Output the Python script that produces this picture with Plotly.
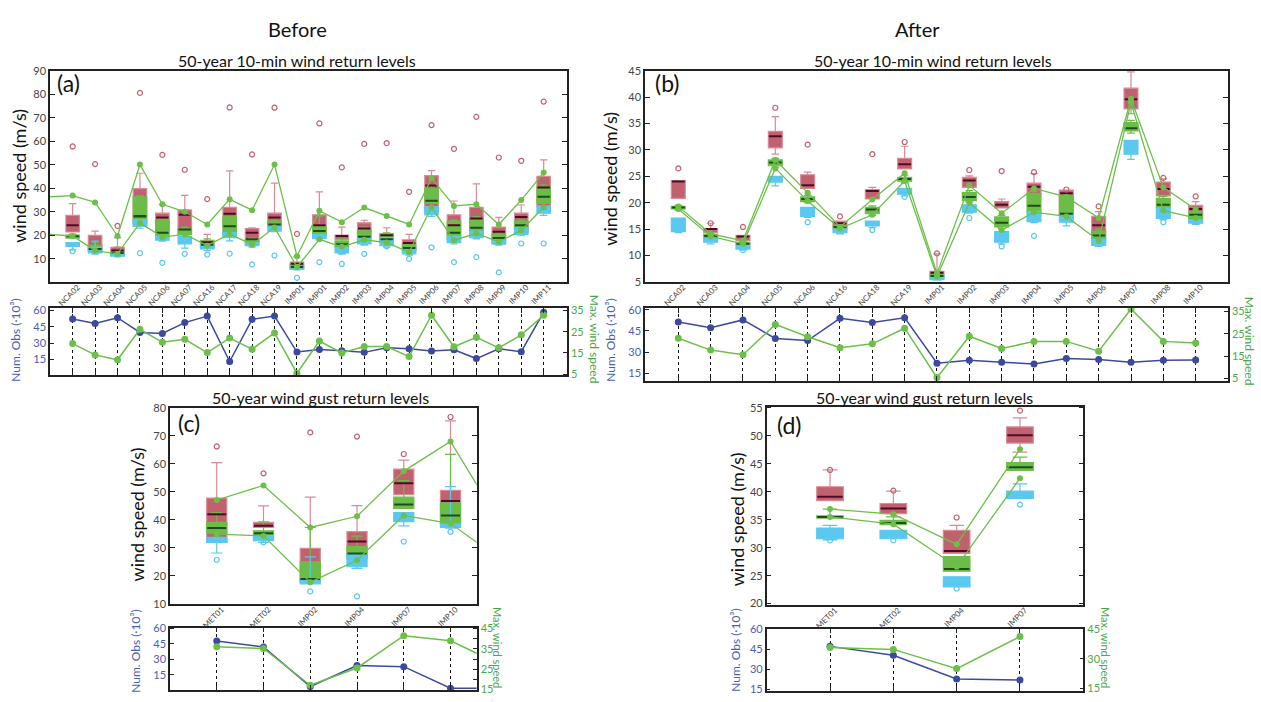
import plotly.graph_objects as go

W, H = 1261, 702
FONT = "Lato"

# ---------------- DATA ----------------
# Panel (a): 50-year 10-min wind return levels, before
stations_a = ["NCA02", "NCA03", "NCA04", "NCA05", "NCA06", "NCA07", "NCA16", "NCA17", "NCA18", "NCA19",
              "IMP01", "IMP01", "IMP02", "IMP03", "IMP04", "IMP05", "IMP06", "IMP07", "IMP08", "IMP09",
              "IMP10", "IMP11"]
red_a_q1 = [21.4, 13.5, 11.4, 23.9, 21.8, 20.4, 16.3, 23.9, 16.9, 23.9, 6.5, 19.7, 18.3, 19.7, 18.3, 14.2, 30.1, 19.7, 21.1, 18.3, 22.5, 32.2]
red_a_med = [24.3, 14.2, 13.5, 28.1, 27.6, 28.7, 17.0, 29.2, 21.1, 27.6, 7.9, 24.3, 19.7, 22.9, 20.0, 16.7, 41.2, 24.3, 27.1, 21.5, 27.8, 40.3]
red_a_q3 = [28.5, 20.0, 14.9, 39.9, 29.4, 30.8, 17.8, 31.9, 22.9, 29.4, 8.6, 28.7, 20.1, 25.3, 20.7, 18.1, 45.4, 28.7, 31.9, 23.5, 29.4, 45.1]
red_a_hi = [33.5, 21.8, 19.0, 46.4, 33.0, 37.0, 20.4, 47.4, 23.2, 42.2, 10.7, 38.5, 23.5, 26.4, 23.2, 20.4, 47.5, 34.6, 41.9, 27.6, 32.9, 52.1]
red_a_lo = [21.4, 13.5, 11.4, 23.9, 21.8, 20.4, 16.3, 23.9, 16.9, 23.9, 6.5, 19.7, 18.3, 19.7, 18.3, 14.2, 30.1, 19.7, 21.1, 18.3, 22.5, 32.2]
red_a_out = [57.8, 50.3, 24.0, 80.6, 54.2, 47.9, 35.4, 74.4, 54.4, 74.3, 20.6, 67.6, 48.9, 58.9, 59.2, 38.5, 66.9, 56.8, 70.4, 53.1, 51.7, 76.9]
green_a_q1 = [18.8, 13.2, 11.4, 25.3, 19.7, 20.4, 14.9, 19.7, 16.0, 23.9, 5.6, 20.4, 14.9, 18.3, 16.9, 13.5, 33.6, 18.3, 20.4, 16.9, 21.1, 33.6]
green_a_med = [19.6, 14.2, 12.5, 28.1, 21.1, 22.5, 16.0, 23.9, 18.3, 24.6, 6.5, 21.8, 16.2, 19.4, 18.3, 14.6, 34.7, 21.1, 23.2, 18.8, 24.3, 36.4]
green_a_q3 = [20.1, 15.8, 13.0, 36.4, 26.7, 23.0, 17.6, 28.1, 18.3, 26.0, 7.5, 23.9, 17.6, 22.5, 20.4, 16.2, 39.9, 26.0, 27.4, 20.4, 26.0, 40.6]
green_a_hi = [20.5, 17.0, 15.0, 36.8, 26.9, 23.5, 18.5, 28.1, 18.8, 26.5, 8.0, 28.1, 18.5, 23.5, 21.0, 17.0, 41.0, 26.5, 28.0, 21.0, 26.5, 41.5]
green_a_lo = [18.8, 13.2, 11.4, 25.3, 19.7, 20.4, 14.9, 19.7, 16.0, 23.9, 5.6, 20.4, 14.9, 18.3, 16.9, 13.5, 33.6, 18.3, 20.4, 16.9, 21.1, 33.6]
blue_a_q1 = [15.3, 12.5, 11.1, 23.9, 17.9, 16.3, 14.2, 19.0, 15.6, 21.8, 5.6, 18.6, 12.5, 16.3, 15.6, 12.1, 28.7, 16.9, 19.0, 16.2, 20.4, 29.4]
blue_a_med = [16.1, 13.7, 11.8, 25.3, 18.8, 18.0, 15.2, 20.0, 16.2, 22.8, 6.0, 19.5, 13.7, 17.6, 17.3, 13.1, 30.4, 18.3, 20.4, 17.2, 21.8, 30.9]
blue_a_q3 = [16.9, 14.9, 12.5, 26.7, 19.7, 19.7, 16.3, 21.1, 16.9, 23.9, 6.5, 20.4, 14.9, 19.0, 19.0, 14.2, 32.2, 19.7, 21.8, 18.3, 23.2, 32.5]
blue_a_hi = [16.9, 17.5, 12.5, 26.7, 19.7, 19.7, 16.3, 21.1, 16.9, 23.9, 6.5, 20.4, 14.9, 19.0, 19.0, 14.2, 32.2, 19.7, 21.8, 18.3, 23.2, 32.5]
blue_a_lo = [13.8, 12.0, 10.8, 23.0, 17.5, 14.5, 13.5, 17.6, 15.0, 21.5, 5.3, 18.0, 12.0, 15.8, 15.0, 11.6, 28.0, 16.3, 18.5, 15.8, 19.8, 28.5]
blue_a_out = [13.2, None, None, 12.4, 8.3, 12.1, 11.8, 12.2, 7.6, 11.4, 1.9, 8.6, 7.8, 12.1, 15.3, 10.0, 14.9, 8.6, 10.7, 4.2, 16.5, 16.5]
upper_a = [36.9, 34.0, 19.7, 50.1, 33.2, 30.0, 24.6, 35.3, 30.7, 50.1, 11.1, 30.4, 25.6, 31.8, 28.2, 24.6, 44.3, 32.5, 33.2, 24.6, 35.0, 46.7]
lower_a = [19.7, 13.5, 12.1, 25.3, 19.2, 20.4, 15.6, 20.6, 16.0, 23.3, 6.5, 18.3, 15.1, 18.1, 16.9, 12.8, 31.9, 17.9, 20.8, 17.2, 22.1, 31.9]
upper_a_prev = 35.9   # line continues from a station left of the frame
lower_a_prev = 21.1
obs_a = [52.2, 48.0, 53.4, 39.9, 39.0, 48.9, 54.9, 13.2, 51.9, 54.9, 21.9, 24.3, 23.1, 21.6, 25.8, 24.9, 22.8, 24.0, 15.9, 24.9, 22.2, 58.5]
maxws_a = [19.4, 14.1, 11.8, 26.1, 20.0, 21.4, 15.2, 22.0, 16.8, 24.4, 5.5, 20.6, 15.0, 18.0, 18.0, 13.3, 32.7, 17.9, 22.4, 17.4, 23.5, 32.7]

# Panel (b): 50-year 10-min wind return levels, after
stations_b = ["NCA02", "NCA03", "NCA04", "NCA05", "NCA06", "NCA16", "NCA18", "NCA19", "IMP01", "IMP02",
              "IMP03", "IMP04", "IMP05", "IMP06", "IMP07", "IMP08", "IMP10"]
red_b_q1 = [20.8, 14.3, 12.8, 30.4, 22.7, 15.6, 20.7, 26.4, 6.3, 22.9, 19.0, 21.4, 17.7, 13.1, 37.8, 21.3, 18.2]
red_b_med = [24.0, 15.0, 13.6, 32.6, 23.3, 16.1, 22.2, 27.3, 6.7, 24.2, 19.6, 23.0, 21.8, 15.7, 39.6, 22.6, 18.8]
red_b_q3 = [24.2, 15.1, 13.8, 33.5, 25.3, 16.5, 22.5, 28.4, 7.0, 24.8, 20.2, 23.7, 22.4, 17.4, 41.7, 23.9, 19.5]
red_b_hi = [24.2, 16.1, 13.8, 36.3, 25.8, 16.5, 22.9, 30.7, 10.3, 25.1, 20.7, 25.5, 22.4, 18.3, 44.8, 24.5, 20.2]
red_b_lo = [20.8, 14.3, 12.8, 29.2, 22.7, 15.6, 20.7, 26.4, 6.3, 22.9, 19.0, 21.4, 17.7, 13.1, 36.9, 21.3, 18.2]
red_b_out = [26.5, 16.1, 15.4, 38.0, 31.0, 17.4, 29.2, 31.5, 10.4, 26.2, 26.0, 25.8, 22.5, 19.3, None, 24.7, 21.2]
green_b_q1 = [18.8, 13.4, 12.0, 27.0, 20.2, 15.0, 17.9, 24.1, 5.8, 20.4, 15.4, 18.0, 17.7, 12.8, 33.6, 19.0, 16.9]
green_b_med = [19.1, 13.7, 12.2, 27.6, 20.7, 15.4, 18.7, 24.5, 6.1, 21.1, 16.2, 19.4, 17.9, 13.8, 34.1, 19.6, 17.7]
green_b_q3 = [19.3, 14.0, 12.5, 28.1, 21.1, 15.6, 19.1, 24.8, 6.4, 21.9, 17.3, 21.7, 21.3, 14.6, 35.2, 20.8, 18.2]
green_b_hi = [19.5, 14.2, 12.7, 28.4, 21.4, 15.8, 19.4, 25.2, 6.6, 22.3, 17.6, 22.1, 21.6, 15.0, 35.6, 21.2, 18.4]
green_b_lo = [18.6, 13.2, 11.8, 26.7, 20.0, 14.8, 17.6, 23.8, 5.6, 20.1, 15.1, 17.7, 17.4, 12.5, 33.2, 18.7, 16.7]
blue_b_q1 = [14.5, 12.5, 11.2, 23.9, 17.4, 14.3, 15.6, 21.6, 5.4, 18.2, 12.5, 16.4, 16.3, 11.9, 29.2, 17.0, 16.1]
blue_b_med = [15.8, 12.8, 11.5, 24.4, 18.2, 14.6, 16.0, 22.1, 5.7, 18.9, 13.5, 17.3, 17.0, 12.5, 30.5, 18.0, 16.4]
blue_b_q3 = [17.1, 13.2, 11.9, 25.0, 19.1, 15.0, 16.5, 22.7, 6.0, 19.6, 14.5, 18.3, 17.7, 13.1, 31.8, 19.0, 16.8]
blue_b_hi = [17.1, 13.2, 11.9, 25.0, 19.1, 15.0, 16.5, 22.7, 6.0, 19.6, 14.5, 18.3, 17.7, 13.1, 31.8, 19.0, 16.8]
blue_b_lo = [14.3, 12.2, 11.0, 23.2, 17.2, 14.1, 15.3, 21.3, 5.3, 18.0, 12.2, 16.2, 15.6, 11.7, 28.2, 16.8, 15.9]
blue_b_out = [None, None, 11.0, None, 16.3, None, 14.8, 21.1, None, 17.1, 11.7, 13.7, None, None, None, 16.3, None]
upper_b = [19.3, 14.1, 12.8, 28.1, 21.9, 15.4, 20.6, 25.6, 6.6, 23.3, 18.0, 22.7, 21.1, 17.1, 39.7, 22.9, 18.7]
lower_b = [18.8, 13.6, 12.2, 26.5, 20.3, 15.1, 17.7, 24.1, 6.0, 20.0, 14.8, 18.2, 17.4, 12.8, 39.0, 18.5, 17.1]
obs_b = [51.3, 47.3, 52.8, 39.7, 38.2, 53.9, 51.0, 54.3, 22.2, 24.2, 22.9, 21.6, 25.5, 24.8, 22.9, 24.2, 24.4]
maxws_b = [23.0, 17.7, 15.6, 29.2, 23.7, 18.8, 20.5, 27.5, 5.4, 23.9, 18.4, 21.6, 21.6, 17.2, 36.1, 21.6, 20.9]

# Panel (c): 50-year wind gust return levels, before
stations_c = ["MET01", "MET02", "IMP02", "IMP04", "IMP07", "IMP10"]
red_c_q1 = [32.0, 37.3, 18.0, 27.4, 49.0, 38.7]
red_c_med = [42.0, 37.9, 18.9, 32.3, 53.1, 46.7]
red_c_q3 = [47.8, 39.1, 29.9, 35.8, 58.1, 50.5]
red_c_hi = [60.4, 45.0, 48.1, 45.1, 61.3, 75.3]
red_c_lo = [32.0, 37.3, 18.0, 27.4, 49.0, 38.7]
red_c_out = [66.2, 56.6, 71.2, 69.7, 63.5, 76.7]
green_c_q1 = [35.3, 34.4, 18.0, 26.2, 44.1, 38.5]
green_c_med = [37.1, 35.2, 18.9, 28.0, 45.5, 41.6]
green_c_q3 = [39.1, 36.1, 25.0, 30.5, 48.1, 46.1]
green_c_hi = [42.6, 39.3, 37.3, 34.2, 54.0, 63.4]
green_c_lo = [35.3, 34.4, 18.0, 26.2, 44.1, 38.5]
blue_c_q1 = [32.0, 32.6, 17.2, 23.3, 39.4, 37.3]
blue_c_med = [32.9, 33.5, 17.9, 25.6, 41.0, 37.9]
blue_c_q3 = [33.8, 34.4, 18.6, 28.0, 42.6, 38.5]
blue_c_hi = [33.8, 34.4, 26.8, 28.0, 42.6, 51.9]
blue_c_lo = [28.2, 32.0, 17.2, 22.7, 37.9, 37.1]
blue_c_out = [25.8, 32.0, 14.5, 12.7, 32.3, 35.8]
upper_c = [47.1, 52.3, 37.3, 41.3, 57.4, 68.0]
lower_c = [34.9, 34.3, 17.8, 25.6, 41.6, 38.7]
upper_c_next = 40.5   # line continues to a station right of the frame
lower_c_next = 26.8
obs_c = [47.9, 42.1, 3.5, 23.9, 22.9, 1.9]
maxws_c = [36.0, 35.2, 17.1, 25.6, 41.5, 39.0]
obs_c_next = 1.9
maxws_c_next = 28.0

# Panel (d): 50-year wind gust return levels, after
stations_d = ["MET01", "MET02", "IMP04", "IMP07"]
red_d_q1 = [38.4, 36.1, 29.0, 48.7]
red_d_med = [39.1, 37.0, 29.4, 50.1]
red_d_q3 = [40.9, 37.9, 33.1, 51.6]
red_d_hi = [43.9, 40.1, 34.0, 53.2]
red_d_lo = [38.4, 36.1, 29.0, 47.1]
red_d_out = [43.9, 40.2, 35.4, 54.5]
green_d_q1 = [35.3, 34.1, 25.8, 43.8]
green_d_med = [35.5, 34.4, 26.2, 44.4]
green_d_q3 = [35.7, 34.9, 28.4, 45.2]
green_d_hi = [36.9, 35.5, 28.4, 46.2]
green_d_lo = [35.3, 34.1, 25.8, 43.8]
blue_d_q1 = [31.6, 31.6, 23.0, 38.8]
blue_d_med = [32.5, 32.3, 23.9, 39.4]
blue_d_q3 = [33.5, 33.1, 24.8, 40.1]
blue_d_hi = [34.0, 33.1, 24.8, 41.4]
blue_d_lo = [31.4, 31.6, 23.0, 38.8]
blue_d_out = [31.3, 31.3, 22.7, 37.7]
upper_d = [36.9, 36.0, 30.6, 47.6]
lower_d = [35.5, 34.2, 26.6, 42.4]
obs_d = [47.2, 40.6, 22.8, 22.1]
maxws_d = [35.7, 34.8, 25.0, 41.3]

# ---------------- STYLE ----------------
RED = "#c1606f"
RED_EDGE = "#d98a95"
RED_MED = "#4e0a26"
GREEN = "#6cbd48"
GREEN_MED = "#1d4d1d"
BLUE = "#5ac8f0"
LINE_G = "#6cc04a"
NAVY = "#3b4a9f"
TXT = "#444444"
LBLUE = "#4a5db5"
LGREEN = "#4aa84a"


def px(x):
    return x / W


def py(y):
    return 1 - y / H


def sfx(n):
    return "" if n == 1 else str(n)


fig = go.Figure()
layout = dict(
    width=W, height=H, margin=dict(l=0, r=0, t=0, b=0),
    paper_bgcolor="white", plot_bgcolor="rgba(0,0,0,0)", showlegend=False,
    font=dict(family=FONT, color=TXT),
)
annotations = []

panels = [
    dict(letter="(a)", names=stations_a, bw=0.6, ppu=22.43,
         red=(red_a_q1, red_a_med, red_a_q3, red_a_lo, red_a_hi, red_a_out),
         green=(green_a_q1, green_a_med, green_a_q3, green_a_lo, green_a_hi),
         blue=(blue_a_q1, blue_a_med, blue_a_q3, blue_a_lo, blue_a_hi, blue_a_out),
         up=upper_a, lo=lower_a, prev=(upper_a_prev, lower_a_prev), nxt=None,
         obs=obs_a, mx=maxws_a, bot_next=None,
         dx=(50, 567), dmain=(65, 280), dbot=(306.7, 375.3),
         xr=[-1.01, 22.04], yr=[0.2, 90], yt=list(range(10, 91, 10)),
         ylr=[0.5, 62.3], ylt=[15, 30, 45, 60], yrr=[4.5, 36.1], yrt=[5, 15, 25, 35], yrm=None),
    dict(letter="(b)", names=stations_b, bw=0.43, ppu=32.35,
         red=(red_b_q1, red_b_med, red_b_q3, red_b_lo, red_b_hi, red_b_out),
         green=(green_b_q1, green_b_med, green_b_q3, green_b_lo, green_b_hi),
         blue=(blue_b_q1, blue_b_med, blue_b_q3, blue_b_lo, blue_b_hi, blue_b_out),
         up=upper_b, lo=lower_b, prev=None, nxt=None,
         obs=obs_b, mx=maxws_b, bot_next=None,
         dx=(645, 1228), dmain=(65, 280), dbot=(307, 381),
         xr=[-1.03, 17.0], yr=[5, 45], yt=list(range(5, 46, 5)),
         ylr=[9.6, 61], ylt=[15, 30, 45, 60], yrr=[3.9, 36.4], yrt=[5, 15, 25, 35], yrm=None),
    dict(letter="(c)", names=stations_c, bw=0.43, ppu=46.8,
         red=(red_c_q1, red_c_med, red_c_q3, red_c_lo, red_c_hi, red_c_out),
         green=(green_c_q1, green_c_med, green_c_q3, green_c_lo, green_c_hi),
         blue=(blue_c_q1, blue_c_med, blue_c_q3, blue_c_lo, blue_c_hi, blue_c_out),
         up=upper_c, lo=lower_c, prev=None, nxt=(upper_c_next, lower_c_next),
         obs=obs_c, mx=maxws_c, bot_next=(obs_c_next, maxws_c_next),
         dx=(170, 476.7), dmain=(408.3, 608.3), dbot=(632.3, 696),
         xr=[-1.0, 5.56], yr=[10, 80], yt=list(range(10, 81, 10)),
         ylr=[0, 61], ylt=[15, 30, 45, 60], yrr=[14.7, 45.5], yrt=[15, 25, 35, 45], yrm=5),
    dict(letter="(d)", names=stations_d, bw=0.42, ppu=63.3,
         red=(red_d_q1, red_d_med, red_d_q3, red_d_lo, red_d_hi, red_d_out),
         green=(green_d_q1, green_d_med, green_d_q3, green_d_lo, green_d_hi),
         blue=(blue_d_q1, blue_d_med, blue_d_q3, blue_d_lo, blue_d_hi, blue_d_out),
         up=upper_d, lo=lower_d, prev=None, nxt=None,
         obs=obs_d, mx=maxws_d, bot_next=None,
         dx=(766.7, 1083.3), dmain=(407.3, 609), dbot=(633.3, 696.7),
         xr=[-1.0, 4.0], yr=[19.8, 55.2], yt=list(range(20, 56, 5)),
         ylr=[14, 60.5], ylt=[15, 30, 45, 60], yrr=[13.7, 45.4], yrt=[15, 30, 45], yrm=None),
]

for k, p in enumerate(panels):
    xm, xb = 2 * k + 1, 2 * k + 2
    ym, yl, yrn = 3 * k + 1, 3 * k + 2, 3 * k + 3
    xs = list(range(len(p["names"])))
    mref = dict(xaxis="x" + sfx(xm), yaxis="y" + sfx(ym))
    bl = dict(xaxis="x" + sfx(xb), yaxis="y" + sfx(yl))
    br = dict(xaxis="x" + sfx(xb), yaxis="y" + sfx(yrn))
    wpx = p["bw"] * p["ppu"]
    msize = (wpx - 1) / 1.4   # line-ew marker spans 1.4 x size

    # boxes
    q1, med, q3, lo, hi, out = p["red"]
    fig.add_trace(go.Box(x=xs, q1=q1, median=med, q3=q3, lowerfence=lo, upperfence=hi,
                         width=p["bw"], fillcolor=RED, line=dict(color=RED_EDGE, width=1.2),
                         whiskerwidth=0.55, boxpoints=False, hoverinfo="skip", **mref))
    fig.add_trace(go.Scatter(x=xs, y=med, mode="markers", hoverinfo="skip",
                             marker=dict(symbol="line-ew", size=msize, color=RED_MED,
                                         line=dict(color=RED_MED, width=2)), **mref))
    q1, med, q3, lo, hi = p["green"]
    fig.add_trace(go.Box(x=xs, q1=q1, median=med, q3=q3, lowerfence=lo, upperfence=hi,
                         width=p["bw"], fillcolor=GREEN, line=dict(color=GREEN, width=1.2),
                         whiskerwidth=0.55, boxpoints=False, hoverinfo="skip", **mref))
    fig.add_trace(go.Scatter(x=xs, y=med, mode="markers", hoverinfo="skip",
                             marker=dict(symbol="line-ew", size=msize, color=GREEN_MED,
                                         line=dict(color=GREEN_MED, width=2)), **mref))
    bq1, bmed, bq3, blo, bhi, bout = p["blue"]
    fig.add_trace(go.Box(x=xs, q1=bq1, median=bmed, q3=bq3, lowerfence=blo, upperfence=bhi,
                         width=p["bw"], fillcolor=BLUE, line=dict(color=BLUE, width=1.2),
                         whiskerwidth=0.55, boxpoints=False, hoverinfo="skip", **mref))
    # outliers
    fig.add_trace(go.Scatter(x=xs, y=out, mode="markers", hoverinfo="skip",
                             marker=dict(symbol="circle-open", size=5, color=RED,
                                         line=dict(color=RED, width=1.2)), **mref))
    fig.add_trace(go.Scatter(x=xs, y=bout, mode="markers", hoverinfo="skip",
                             marker=dict(symbol="circle-open", size=5, color=BLUE,
                                         line=dict(color=BLUE, width=1.2)), **mref))
    # green return-level lines
    for vals, ext_i in ((p["up"], 0), (p["lo"], 1)):
        lx, ly = list(xs), list(vals)
        if p["prev"] is not None:
            lx = [-2] + lx
            ly = [p["prev"][ext_i]] + ly
        if p["nxt"] is not None:
            lx = lx + [len(xs)]
            ly = ly + [p["nxt"][ext_i]]
        fig.add_trace(go.Scatter(x=lx, y=ly, mode="lines", hoverinfo="skip",
                                 line=dict(color=LINE_G, width=1.3), **mref))
        fig.add_trace(go.Scatter(x=xs, y=vals, mode="markers", hoverinfo="skip",
                                 marker=dict(color=LINE_G, size=6), **mref))

    # bottom panel
    ox, oy = list(xs), list(p["obs"])
    mxx, mxy = list(xs), list(p["mx"])
    if p["bot_next"] is not None:
        ox.append(len(xs)); oy.append(p["bot_next"][0])
        mxx.append(len(xs)); mxy.append(p["bot_next"][1])
    fig.add_trace(go.Scatter(x=ox, y=oy, mode="lines", hoverinfo="skip",
                             line=dict(color=NAVY, width=1.5), **bl))
    fig.add_trace(go.Scatter(x=xs, y=p["obs"], mode="markers", hoverinfo="skip",
                             marker=dict(color=NAVY, size=7), **bl))
    fig.add_trace(go.Scatter(x=mxx, y=mxy, mode="lines", hoverinfo="skip",
                             line=dict(color=LINE_G, width=1.5), **br))
    fig.add_trace(go.Scatter(x=xs, y=p["mx"], mode="markers", hoverinfo="skip",
                             marker=dict(color=LINE_G, size=7), **br))

    dxx = [px(p["dx"][0]), px(p["dx"][1])]
    layout["xaxis" + sfx(xm)] = dict(
        domain=dxx, range=p["xr"], anchor="y" + sfx(ym), showgrid=False, zeroline=False,
        showline=True, linecolor="#222", linewidth=1.5, mirror=True, ticks="",
        tickvals=xs, ticktext=p["names"], tickangle=-45,
        ticklabelstandoff=-4, ticklabelshift=5,
        tickfont=dict(size=8, color=TXT, family=FONT))
    layout["yaxis" + sfx(ym)] = dict(
        domain=[py(p["dmain"][1]), py(p["dmain"][0])], range=p["yr"], anchor="x" + sfx(xm),
        showgrid=False, zeroline=False, showline=True, linecolor="#222", linewidth=1.5,
        mirror="ticks", ticks="inside", ticklen=5, tickcolor="#222", tickvals=p["yt"],
        tickfont=dict(size=11, color=TXT, family=FONT))
    layout["xaxis" + sfx(xb)] = dict(
        domain=dxx, range=p["xr"], anchor="y" + sfx(yl), zeroline=False,
        showline=True, linecolor="#222", linewidth=1.5, mirror="ticks", ticks="inside",
        ticklen=5, tickcolor="#222", tickvals=xs, showticklabels=False,
        showgrid=True, griddash="dot", gridcolor="#111", gridwidth=1)
    layout["yaxis" + sfx(yl)] = dict(
        domain=[py(p["dbot"][1]), py(p["dbot"][0])], range=p["ylr"], anchor="x" + sfx(xb),
        showgrid=False, zeroline=False, showline=True, linecolor="#222", linewidth=1.5,
        ticks="inside", ticklen=4, tickcolor="#222", tickvals=p["ylt"],
        tickfont=dict(size=11, color=LBLUE, family=FONT))
    yr_axis = dict(
        overlaying="y" + sfx(yl), side="right", range=p["yrr"], anchor="x" + sfx(xb),
        showgrid=False, zeroline=False, showline=True, linecolor="#222", linewidth=1.5,
        ticks="inside", ticklen=4, tickcolor="#222", tickvals=p["yrt"],
        tickfont=dict(size=11, color=LGREEN, family=FONT))
    if p["yrm"]:
        yr_axis["minor"] = dict(dtick=p["yrm"], ticks="inside", ticklen=4, tickcolor="#222")
    layout["yaxis" + sfx(yrn)] = yr_axis


def label(text, x, y, size, color="#111", angle=0):
    annotations.append(dict(text=text, x=px(x), y=py(y), xref="paper", yref="paper",
                            showarrow=False, textangle=angle, xanchor="center", yanchor="middle",
                            font=dict(family=FONT, size=size, color=color)))


label("Before", 297, 22, 20)
label("After", 917, 22, 20)
label("50-year 10-min wind return levels", 297, 55, 16)
label("50-year 10-min wind return levels", 933, 55, 16)
label("50-year wind gust return levels", 320, 398, 16)
label("50-year wind gust return levels", 925, 398, 16)
label("(a)", 68, 77, 23)
label("(b)", 667, 77, 23)
label("(c)", 189, 424, 23)
label("(d)", 789, 426, 23)
label("wind speed (m/s)", 19, 172, 18, angle=-90)
label("wind speed (m/s)", 610, 175, 18, angle=-90)
label("wind speed (m/s)", 137, 517, 18, angle=-90)
label("wind speed (m/s)", 737, 522, 18, angle=-90)
label("Num. Obs (·10³)", 16, 340, 12, LBLUE, angle=-90)
label("Num. Obs (·10³)", 611, 340, 12, LBLUE, angle=-90)
label("Num. Obs (·10³)", 136, 657, 12, LBLUE, angle=-90)
label("Num. Obs (·10³)", 736, 656, 12, LBLUE, angle=-90)
label("Max. wind speed", 594, 338, 12, LGREEN, angle=90)
label("Max. wind speed", 1249, 340, 12, LGREEN, angle=90)
label("Max. wind speed", 497, 652, 11, LGREEN, angle=90)
label("Max. wind speed", 1105, 652, 11, LGREEN, angle=90)

layout["annotations"] = annotations
layout["boxmode"] = "overlay"
fig.update_layout(**layout)

fig.write_html("out.html", config={"displayModeBar": False},
               post_script="document.body.style.margin='0';")
